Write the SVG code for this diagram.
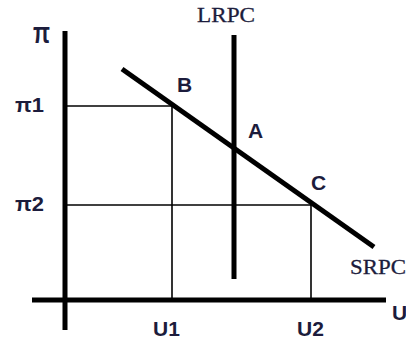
<svg xmlns="http://www.w3.org/2000/svg" width="406" height="345" viewBox="0 0 406 345">
<style>
.ax{stroke:#000;stroke-width:5;fill:none}
.thin{stroke:#000;stroke-width:1.6;fill:none}
.curve{stroke:#000;stroke-width:5;fill:none;stroke-linecap:butt}
.lb{font-family:"Liberation Sans",Arial,sans-serif;font-weight:bold;font-size:21px;fill:#1c1c3c}
.pi{font-size:30px}
.sr{font-family:"Liberation Serif","Times New Roman",serif;font-size:21px;fill:#1c1c3c;stroke:#1c1c3c;stroke-width:0.3}
</style>
<rect width="406" height="345" fill="#fff"/>
<g id="connectors">
<line class="thin" x1="65" y1="106" x2="172" y2="106"/>
<line class="thin" x1="172" y1="106" x2="172" y2="300"/>
<line class="thin" x1="65" y1="205" x2="311" y2="205"/>
<line class="thin" x1="311" y1="205" x2="311" y2="300"/>
</g>
<g id="axes">
<line class="ax" x1="65" y1="31" x2="65" y2="330"/>
<line class="ax" x1="32" y1="300" x2="386" y2="300"/>
</g>
<g id="SRPC">
<line class="curve" x1="122" y1="69" x2="374" y2="247"/>
<text class="sr" x="350" y="274" textLength="56" lengthAdjust="spacingAndGlyphs">SRPC</text>
</g>
<g id="LRPC">
<line class="curve" x1="234" y1="35" x2="234" y2="279"/>
<text class="sr" x="197" y="22" textLength="58" lengthAdjust="spacingAndGlyphs">LRPC</text>
</g>
<g id="labels">
<text class="lb pi" x="33" y="43" textLength="17" lengthAdjust="spacingAndGlyphs">π</text>
<text class="lb" x="15" y="112" font-size="23" textLength="29" lengthAdjust="spacingAndGlyphs">π1</text>
<text class="lb" x="15" y="211" font-size="23" textLength="29" lengthAdjust="spacingAndGlyphs">π2</text>
<text class="lb" x="153" y="336">U1</text>
<text class="lb" x="297" y="336">U2</text>
<text class="lb" x="392" y="320">U</text>
<text class="lb" x="177" y="92">B</text>
<text class="lb" x="248" y="138">A</text>
<text class="lb" x="311" y="190">C</text>
</g>
</svg>
